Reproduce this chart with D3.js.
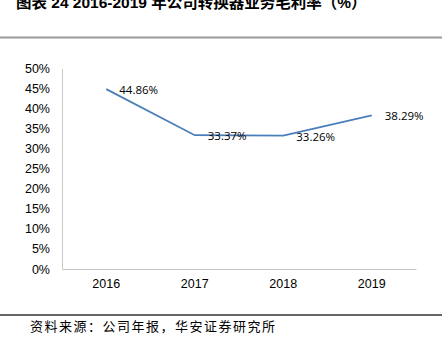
<!DOCTYPE html>
<html><head><meta charset="utf-8">
<script src="https://cdn.jsdelivr.net/npm/d3@7"></script>
<style>body{margin:0;background:#fff;} svg{display:block;}</style>
</head><body>
<script>
const title = "图表 24 2016-2019 年公司转换器业务毛利率（%）";
const source = "资料来源：公司年报，华安证券研究所";
const years = ["2016","2017","2018","2019"];
const margins = [44.86, 33.37, 33.26, 38.29];
const yTicks = [0,5,10,15,20,25,30,35,40,45,50];

const W=447,H=350;
const svg=d3.select("body").append("svg").attr("width",W).attr("height",H);

svg.append("text").attr("x",16).attr("y",7.5).attr("font-family","Liberation Sans, Noto Sans CJK SC, sans-serif")
  .attr("font-weight","bold").attr("font-size",15.5).attr("fill","#000").text(title);
svg.append("line").attr("x1",0).attr("x2",442).attr("y1",37.5).attr("y2",37.5).attr("stroke","#9a9a9a").attr("stroke-width",2);

const x=d3.scaleBand().domain(years).range([62,416]);
const y=d3.scaleLinear().domain([0,50]).range([269,68.5]);

const font="Liberation Sans, Arial, sans-serif";
const yAxis=svg.append("g").attr("transform","translate(62,0)")
  .call(d3.axisLeft(y).tickValues(yTicks).tickFormat(d=>d+"%").tickSize(0).tickPadding(12));
yAxis.select(".domain").attr("stroke","#c8c8c8");
yAxis.selectAll("text").attr("font-family",font).attr("font-size",12.5).attr("fill","#000");

const xAxis=svg.append("g").attr("transform","translate(0,269)")
  .call(d3.axisBottom(x).tickSize(0).tickPadding(10));
xAxis.select(".domain").attr("stroke","#c8c8c8");
xAxis.selectAll("text").attr("font-family",font).attr("font-size",12.5).attr("fill","#000");

const pts=years.map((yr,i)=>({yr,v:margins[i]}));
svg.append("path").datum(pts)
  .attr("d",d3.line().x(d=>x(d.yr)+x.bandwidth()/2).y(d=>y(d.v)))
  .attr("fill","none").attr("stroke","#4a7ebb").attr("stroke-width",1.8);

svg.selectAll(".lbl").data(pts).enter().append("text")
  .attr("x",d=>x(d.yr)+x.bandwidth()/2+13).attr("y",d=>y(d.v)+5)
  .attr("font-family","Open Sans, sans-serif").attr("font-size",11.5).attr("fill","#000")
  .text(d=>d.v.toFixed(2)+"%");

svg.append("line").attr("x1",0).attr("x2",442).attr("y1",315).attr("y2",315).attr("stroke","#333").attr("stroke-width",1.5);
svg.append("text").attr("x",30).attr("y",331).attr("font-family","Noto Sans CJK SC, sans-serif")
  .attr("font-size",13).attr("letter-spacing",1.5).attr("fill","#000").text(source);
</script>
</body></html>
